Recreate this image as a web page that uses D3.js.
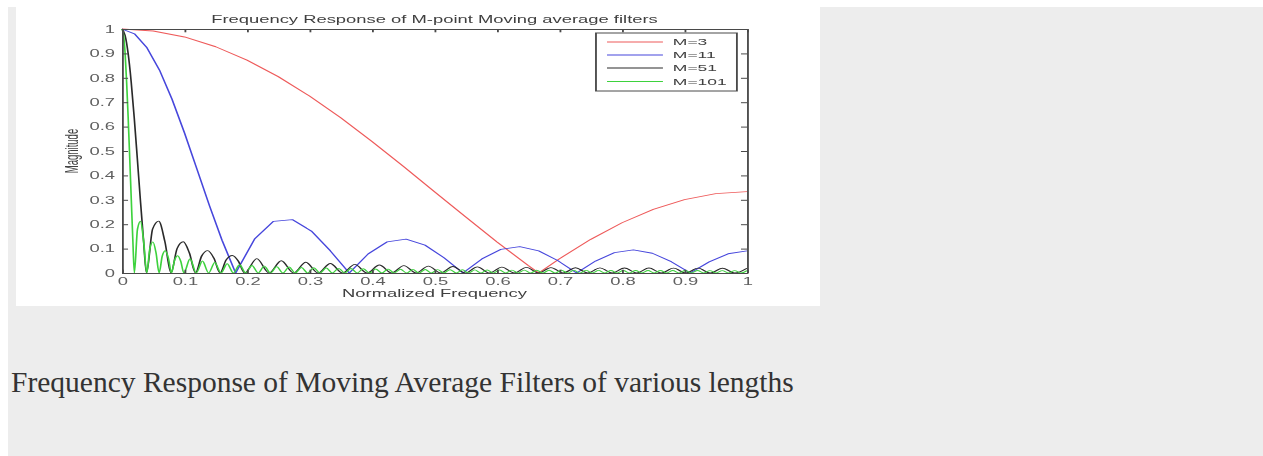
<!DOCTYPE html>
<html>
<head>
<meta charset="utf-8">
<script src="https://cdn.jsdelivr.net/npm/d3@7"></script>
<style>
  html, body { margin: 0; padding: 0; background: #ffffff; }
  svg { display: block; }
</style>
</head>
<body>
<svg id="page" width="1263" height="456"></svg>
<script>
// Magnitude response samples [normalized frequency, |H|] for each filter length
const responseM3 = [
  [0, 1], [0.05, 0.9918], [0.1, 0.9674], [0.15, 0.9273], [0.2, 0.8727], [0.25, 0.8047],
  [0.3, 0.7252], [0.35, 0.6360], [0.4, 0.5393], [0.45, 0.4376], [0.5, 0.3333],
  [0.55, 0.2291], [0.6, 0.1273], [0.65, 0.0306], [0.6667, 0], [0.7, 0.0585],
  [0.75, 0.1381], [0.8, 0.2060], [0.85, 0.2607], [0.9, 0.3007], [0.95, 0.3251], [1, 0.3333]
];

const responseM11 = [
  [0, 1], [0.02, 0.9804], [0.04, 0.9229], [0.06, 0.8319], [0.08, 0.7125], [0.1, 0.5740],
  [0.12, 0.4251], [0.14, 0.2756], [0.16, 0.1346], [0.1818, 0],
  [0.2121, 0.1390], [0.2424, 0.2118], [0.2727, 0.2188], [0.3030, 0.1718], [0.3333, 0.0909], [0.3636, 0],
  [0.3939, 0.0784], [0.4242, 0.1274], [0.4545, 0.1388], [0.4848, 0.1141], [0.5152, 0.0628], [0.5455, 0],
  [0.5758, 0.0578], [0.6061, 0.0966], [0.6364, 0.1081], [0.6667, 0.0909], [0.6970, 0.0511], [0.7273, 0],
  [0.7576, 0.0490], [0.7879, 0.0833], [0.8182, 0.0947], [0.8485, 0.0810], [0.8788, 0.0463], [0.9091, 0],
  [0.9394, 0.0457], [0.9697, 0.0788], [1, 0.0909]
];

const responseM51 = [
  [0, 1], [0.0049, 0.9745], [0.0098, 0.9003], [0.0147, 0.7842], [0.0196, 0.6366],
  [0.0245, 0.4705], [0.0294, 0.3001], [0.0343, 0.1392], [0.0392, 0],
  [0.0490, 0.1803], [0.0588, 0.2125], [0.0686, 0.1289], [0.0784, 0],
  [0.0882, 0.1004], [0.0980, 0.1278], [0.1078, 0.0823], [0.1176, 0],
  [0.1275, 0.0697], [0.1373, 0.0917], [0.1471, 0.0605], [0.1569, 0],
  [0.1667, 0.0536], [0.1765, 0.0716], [0.1863, 0.0481], [0.1961, 0],
  [0.2157, 0.0590], [0.2353, 0], [0.2549, 0.0503], [0.2745, 0], [0.2941, 0.0440], [0.3137, 0],
  [0.3333, 0.0392], [0.3529, 0], [0.3725, 0.0355], [0.3922, 0], [0.4118, 0.0325], [0.4314, 0],
  [0.4510, 0.0301], [0.4706, 0], [0.4902, 0.0282], [0.5098, 0], [0.5294, 0.0265], [0.5490, 0],
  [0.5686, 0.0252], [0.5882, 0], [0.6078, 0.0240], [0.6275, 0], [0.6471, 0.0230], [0.6667, 0],
  [0.6863, 0.0222], [0.7059, 0], [0.7255, 0.0216], [0.7451, 0], [0.7647, 0.0210], [0.7843, 0],
  [0.8039, 0.0206], [0.8235, 0], [0.8431, 0.0202], [0.8627, 0], [0.8824, 0.0199], [0.9020, 0],
  [0.9216, 0.0198], [0.9412, 0], [0.9608, 0.0196], [0.9804, 0], [1, 0.0196]
];

const responseM101 = [
  [0, 1], [0.0025, 0.9745], [0.0050, 0.9003], [0.0074, 0.7842], [0.0099, 0.6366],
  [0.0124, 0.4705], [0.0149, 0.3001], [0.0173, 0.1392], [0.0198, 0],
  [0.0248, 0.1798], [0.0297, 0.2123], [0.0347, 0.1285], [0.0396, 0],
  [0.0446, 0.1000], [0.0495, 0.1275], [0.0545, 0.0819], [0.0594, 0],
  [0.0644, 0.0693], [0.0693, 0.0911], [0.0743, 0.0601], [0.0792, 0],
  [0.0842, 0.0531], [0.0891, 0.0710], [0.0941, 0.0475], [0.0990, 0],
  [0.1089, 0.0582], [0.1188, 0], [0.1287, 0.0493], [0.1386, 0], [0.1485, 0.0428], [0.1584, 0],
  [0.1683, 0.0379], [0.1782, 0], [0.1881, 0.0340], [0.1980, 0],
  [0.2079, 0.0309], [0.2178, 0], [0.2277, 0.0283], [0.2376, 0], [0.2475, 0.0261], [0.2574, 0],
  [0.2673, 0.0243], [0.2772, 0], [0.2871, 0.0227], [0.2970, 0],
  [0.3069, 0.0214], [0.3168, 0], [0.3267, 0.0202], [0.3366, 0], [0.3465, 0.0191], [0.3564, 0],
  [0.3663, 0.0182], [0.3762, 0], [0.3861, 0.0174], [0.3960, 0],
  [0.4059, 0.0166], [0.4158, 0], [0.4257, 0.0160], [0.4356, 0], [0.4455, 0.0154], [0.4554, 0],
  [0.4653, 0.0148], [0.4752, 0], [0.4851, 0.0143], [0.4950, 0],
  [0.5050, 0.0139], [0.5149, 0], [0.5248, 0.0135], [0.5347, 0], [0.5446, 0.0131], [0.5545, 0],
  [0.5644, 0.0128], [0.5743, 0], [0.5842, 0.0125], [0.5941, 0],
  [0.6040, 0.0122], [0.6139, 0], [0.6238, 0.0119], [0.6337, 0], [0.6436, 0.0117], [0.6535, 0],
  [0.6634, 0.0115], [0.6733, 0], [0.6832, 0.0113], [0.6931, 0],
  [0.7030, 0.0111], [0.7129, 0], [0.7228, 0.0109], [0.7327, 0], [0.7426, 0.0108], [0.7525, 0],
  [0.7624, 0.0106], [0.7723, 0], [0.7822, 0.0105], [0.7921, 0],
  [0.8020, 0.0104], [0.8119, 0], [0.8218, 0.0103], [0.8317, 0], [0.8416, 0.0102], [0.8515, 0],
  [0.8614, 0.0101], [0.8713, 0], [0.8812, 0.0101], [0.8911, 0],
  [0.9010, 0.0100], [0.9109, 0], [0.9208, 0.0100], [0.9307, 0], [0.9406, 0.0099], [0.9505, 0],
  [0.9604, 0.0099], [0.9703, 0], [0.9802, 0.0099], [0.9901, 0], [1, 0.0099]
];

const seriesLabels = ["M=3", "M=11", "M=51", "M=101"];
const seriesColors = ["#ee5a5a", "#4646dc", "#2a2a2a", "#3ed23e"];
const xTickValues = [0, 0.1, 0.2, 0.3, 0.4, 0.5, 0.6, 0.7, 0.8, 0.9, 1];
const xTickLabels = ["0", "0.1", "0.2", "0.3", "0.4", "0.5", "0.6", "0.7", "0.8", "0.9", "1"];
const yTickValues = [0, 0.1, 0.2, 0.3, 0.4, 0.5, 0.6, 0.7, 0.8, 0.9, 1];
const yTickLabels = ["0", "0.1", "0.2", "0.3", "0.4", "0.5", "0.6", "0.7", "0.8", "0.9", "1"];

const titleText = "Frequency Response of M-point Moving average filters";
const xLabelText = "Normalized Frequency";
const yLabelText = "Magnitude";
const captionText = "Frequency Response of Moving Average Filters of various lengths";

// ---- page ----
const svg = d3.select("#page");
const sansFont = "'Liberation Sans', Arial, Helvetica, sans-serif";

// soft look of the embedded plot image
svg.append("defs").append("filter")
  .attr("id", "soften")
  .attr("x", "-2%").attr("y", "-2%").attr("width", "104%").attr("height", "104%")
  .append("feGaussianBlur").attr("stdDeviation", "0.25 0.45");

svg.append("rect").attr("x", 8).attr("y", 7).attr("width", 1255).attr("height", 449)
  .attr("fill", "#ededed");
svg.append("rect").attr("x", 16).attr("y", 0).attr("width", 804).attr("height", 306)
  .attr("fill", "#ffffff");

svg.append("text")
  .attr("x", 11).attr("y", 392)
  .attr("font-family", "'Liberation Serif', 'Times New Roman', serif")
  .attr("font-size", 29.5)
  .attr("fill", "#333333")
  .text(captionText);

// ---- figure (the embedded plot image is stretched horizontally) ----
const stretch = 1.84;
const fig = svg.append("g")
  .attr("transform", `translate(16,0) scale(${stretch},1)`)
  .attr("filter", "url(#soften)");

const x = d3.scaleLinear().domain([0, 1]).range([57.6, 397.3]);
const y = d3.scaleLinear().domain([0, 1]).range([273, 29]);
const tickLen = 3.3;

fig.append("rect")
  .attr("x", x(0)).attr("y", y(1))
  .attr("width", x(1) - x(0)).attr("height", y(0) - y(1))
  .attr("fill", "#ffffff");

// response curves
const linear = d3.line().x(d => x(d[0])).y(d => y(d[1]));
const smooth = d3.line().x(d => x(d[0])).y(d => y(d[1])).curve(d3.curveMonotoneX);
const seriesData = [responseM3, responseM11, responseM51, responseM101];
const seriesLine = [linear, linear, smooth, smooth];

const curves = fig.append("g").attr("fill", "none").attr("stroke-width", 0.9);
seriesData.forEach((data, i) => {
  curves.append("path")
    .attr("d", seriesLine[i](data))
    .attr("stroke", seriesColors[i])
    .attr("stroke-linejoin", "round");
});

// axes with inward ticks on all four sides
function styleAxis(g) {
  g.selectAll(".domain").attr("stroke", "#4a4a4a").attr("stroke-width", 1);
  g.selectAll(".tick line").attr("stroke", "#4a4a4a").attr("stroke-width", 1);
  g.selectAll(".tick text").attr("fill", "#606060").attr("font-family", sansFont).attr("font-size", 10);
}

fig.append("g")
  .attr("transform", `translate(0,${y(0)})`)
  .call(d3.axisBottom(x).tickValues(xTickValues)
    .tickFormat((d, i) => xTickLabels[i])
    .tickSize(-tickLen).tickSizeOuter(0).tickPadding(4.5))
  .call(styleAxis);

fig.append("g")
  .attr("transform", `translate(0,${y(1)})`)
  .call(d3.axisTop(x).tickValues(xTickValues).tickFormat("")
    .tickSize(-tickLen).tickSizeOuter(0))
  .call(styleAxis);

fig.append("g")
  .attr("transform", `translate(${x(0)},0)`)
  .call(d3.axisLeft(y).tickValues(yTickValues)
    .tickFormat((d, i) => yTickLabels[i])
    .tickSize(-tickLen).tickSizeOuter(0).tickPadding(3.8))
  .call(styleAxis);

fig.append("g")
  .attr("transform", `translate(${x(1)},0)`)
  .call(d3.axisRight(y).tickValues(yTickValues).tickFormat("")
    .tickSize(-tickLen).tickSizeOuter(0))
  .call(styleAxis);

// title and axis labels
fig.append("text")
  .attr("x", (x(0) + x(1)) / 2).attr("y", 23)
  .attr("text-anchor", "middle")
  .attr("font-family", sansFont).attr("font-size", 10)
  .attr("fill", "#404040")
  .text(titleText);

fig.append("text")
  .attr("x", (x(0) + x(1)) / 2).attr("y", 297)
  .attr("text-anchor", "middle")
  .attr("font-family", sansFont).attr("font-size", 10)
  .attr("fill", "#404040")
  .text(xLabelText);

fig.append("text")
  .attr("transform", `translate(33.5,${(y(0) + y(1)) / 2}) rotate(-90)`)
  .attr("text-anchor", "middle")
  .attr("font-family", sansFont).attr("font-size", 9.5)
  .attr("fill", "#404040")
  .text(yLabelText);

// legend
const legend = fig.append("g");
legend.append("rect")
  .attr("x", 315.2).attr("y", 33)
  .attr("width", 76.6).attr("height", 58)
  .attr("fill", "#ffffff").attr("stroke", "#4a4a4a").attr("stroke-width", 1);

const legendRowY = [42, 55, 68, 81.5];
seriesLabels.forEach((label, i) => {
  legend.append("line")
    .attr("x1", 321.2).attr("x2", 351.6)
    .attr("y1", legendRowY[i]).attr("y2", legendRowY[i])
    .attr("stroke", seriesColors[i]).attr("stroke-width", 0.9);
  legend.append("text")
    .attr("x", 357).attr("y", legendRowY[i]).attr("dy", "0.35em")
    .attr("font-family", sansFont).attr("font-size", 9.5)
    .attr("fill", "#404040")
    .text(label);
});
</script>
</body>
</html>
